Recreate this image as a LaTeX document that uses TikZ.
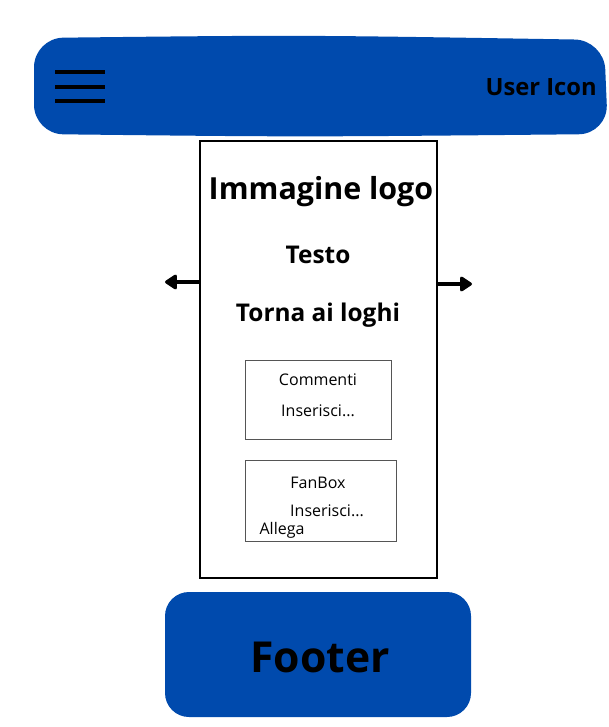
\documentclass[tikz,border=0pt]{standalone}
\usepackage{fontspec}
\setmainfont{Open Sans}
\usetikzlibrary{arrows.meta,positioning}
\definecolor{brand}{HTML}{004AAD}
\definecolor{thin}{HTML}{555555}
\tikzset{
  panel/.style={draw=black,line width=2.2pt,fill=white},
  inbox/.style={draw=thin,line width=0.7pt,fill=white},
  title/.style={font=\bfseries,text=black,inner sep=0pt},
  label/.style={font=\fontsize{12}{14}\selectfont,text=black,inner sep=0pt},
  swipe/.style={-{Triangle[length=10pt,width=12.5pt,round]},line width=2.3pt,draw=black},
}
\begin{document}
\begin{tikzpicture}[x=0.75pt,y=-0.75pt]
  \useasboundingbox (0,0) rectangle (608,727);
  % header
  \fill[brand,rounded corners=22pt] (34,38) .. controls (300,35) .. (604,40) -- (608,134) .. controls (300,137) .. (34,134) -- cycle;
  \node (header) at (320,86) {};
  \foreach \y in {72,87,101}
    \draw[line width=2.6pt] (55,\y) -- (105,\y);
  \node[title,font=\bfseries\fontsize{17.8}{20}\selectfont,anchor=east] (user) at (597,87) {User Icon};
  % main panel
  \draw[panel] (200,141) rectangle (437,578);
  \coordinate (pl) at (200,282);
  \coordinate (pr) at (437,284);
  \coordinate (al) at (165,282);
  \coordinate (ar) at (472,284);
  \draw[swipe] (pl) -- (al);
  \draw[swipe] (pr) -- (ar);
  \node[title,font=\bfseries\fontsize{22.8}{26}\selectfont] (logo) at (321,192) {Immagine logo};
  \node[title,font=\bfseries\fontsize{18.3}{20}\selectfont] (testo) at (318,255) {Testo};
  \node[title,font=\bfseries\fontsize{18.3}{20}\selectfont] (torna) at (318,315) {Torna ai loghi};
  % comments
  \draw[inbox] (245,360) rectangle (391,439);
  \node[label] (commenti) at (318,380) {Commenti};
  \node[label] (insc) at (318,411) {Inserisci...};
  % fanbox
  \draw[inbox] (245,460) rectangle (396,541);
  \node[label] (fanbox) at (318,483) {FanBox};
  \node[label] (insf) at (327,511) {Inserisci...};
  \node[label] (allega) at (282,530) {Allega};
  % footer
  \fill[brand,rounded corners=18pt] (165,592) rectangle (471,717);
  \node[title,font=\bfseries\fontsize{32}{36}\selectfont] (footer) at (320,657) {Footer};
\end{tikzpicture}
\end{document}
